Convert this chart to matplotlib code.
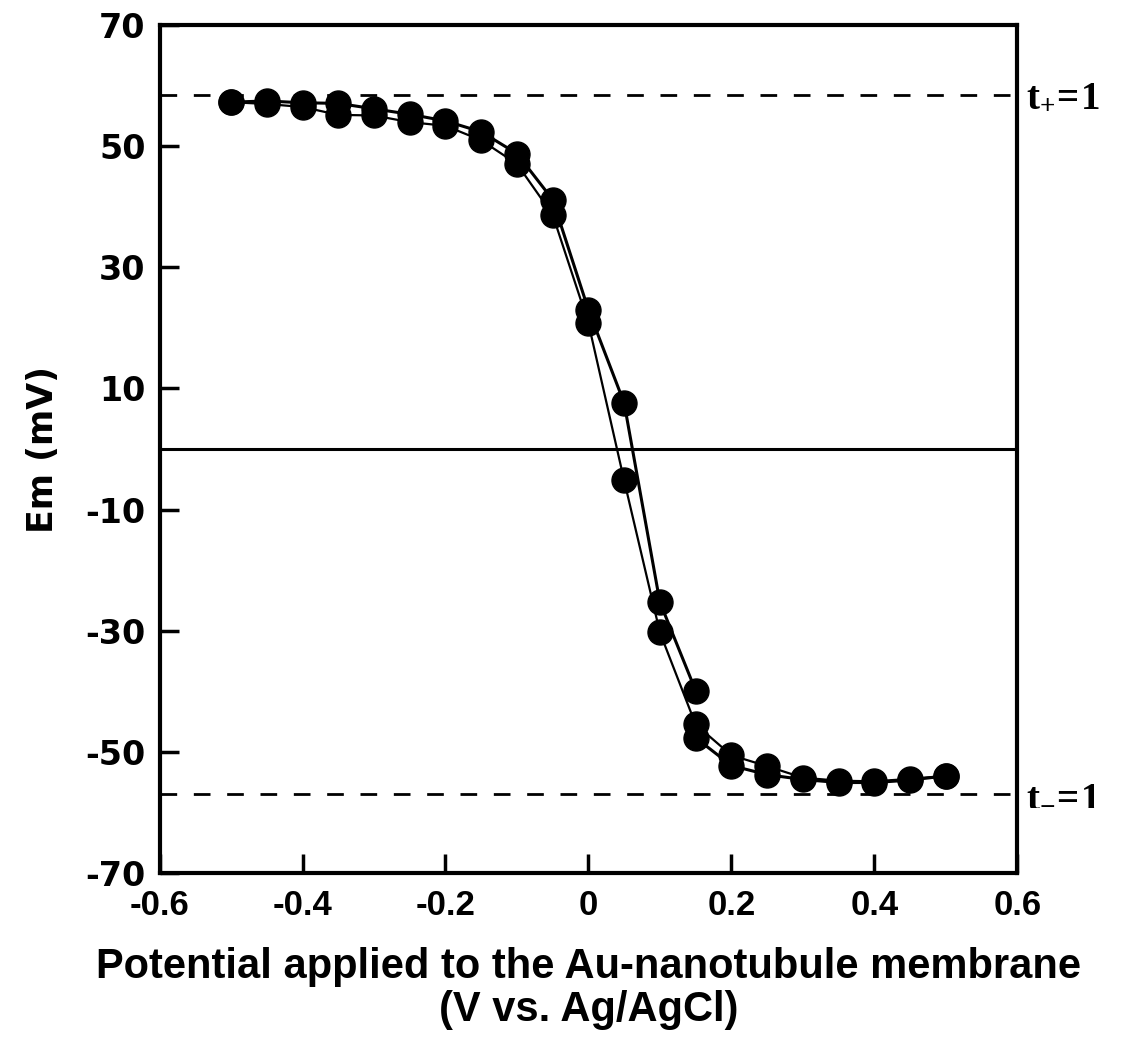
import numpy as np
import matplotlib
matplotlib.use('Agg')
import matplotlib.pyplot as plt

# applied potential (V vs Ag/AgCl)
potential = [-0.5, -0.45, -0.4, -0.35, -0.3, -0.25, -0.2, -0.15, -0.1, -0.05,
             0.0, 0.05, 0.1, 0.15, np.nan, 0.15, 0.2, 0.25, 0.3, 0.35, 0.4, 0.45, 0.5]
# membrane potential, first scan (mV)
em_scan1 = [57.3, 57.5, 57.2, 57.1, 56.2, 55.3, 54.2, 52.4, 48.8, 41.2,
            23.0, 7.6, -25.3, -39.9, np.nan, -47.7, -52.3, -53.8, -54.6, -55.1, -55.1, -54.7, -54.0]

potential2 = [-0.5, -0.45, -0.4, -0.35, -0.3, -0.25, -0.2, -0.15, -0.1, -0.05,
              0.0, 0.05, 0.1, 0.15, 0.2, 0.25, 0.3, 0.35, 0.4, 0.45, 0.5]
# membrane potential, second scan (mV)
em_scan2 = [57.3, 57.0, 56.5, 55.2, 55.1, 54.0, 53.4, 51.0, 47.1, 38.7,
            20.8, -5.2, -30.3, -45.5, -50.6, -52.4, -54.3, -54.8, -54.9, -54.5, -54.0]

# ideal transference limits (mV)
t_plus_limit = 58.5
t_minus_limit = -57.0

x_ticks = [-0.6, -0.4, -0.2, 0, 0.2, 0.4, 0.6]
x_ticklabels = ['-0.6', '-0.4', '-0.2', '0', '0.2', '0.4', '0.6']
y_ticks = [-70, -50, -30, -10, 10, 30, 50, 70]

plt.rcParams['mathtext.fontset'] = 'custom'
plt.rcParams['mathtext.bf'] = 'Liberation Serif:bold'
plt.rcParams['mathtext.rm'] = 'Liberation Serif:bold'

sans = ['Liberation Sans', 'DejaVu Sans']

fig = plt.figure(figsize=(11.24, 10.54), dpi=100)
ax = fig.add_axes([0.142, 0.172, 0.763, 0.804])

ax.plot(potential, em_scan1, '-o', color='black', lw=2.2, markersize=18, zorder=3)
ax.plot(potential2, em_scan2, '-o', color='black', lw=1.6, markersize=18, zorder=3)

ax.axhline(0, color='black', lw=2.2)
ax.axhline(t_plus_limit, color='black', lw=2, linestyle=(0, (6, 6)))
ax.axhline(t_minus_limit, color='black', lw=2, linestyle=(0, (6, 6)))

ax.set_xlim(-0.6, 0.6)
ax.set_ylim(-70, 70)
ax.set_xticks(x_ticks)
ax.set_xticklabels(x_ticklabels, family=sans, fontweight='bold', fontsize=25)
ax.set_yticks(y_ticks)
ax.set_yticklabels([str(v) for v in y_ticks], fontweight='bold', fontsize=24)
ax.tick_params(axis='both', direction='in', length=14, width=2.5, colors='black')
ax.tick_params(axis='x', pad=12)
ax.tick_params(axis='y', pad=10)
for s in ax.spines.values():
    s.set_linewidth(3)

ax.set_ylabel('Em (mV)', fontweight='bold', fontsize=25, labelpad=18)
ax.set_xlabel('Potential applied to the Au-nanotubule membrane\n(V vs. Ag/AgCl)',
              family=sans, fontweight='bold', fontsize=30, labelpad=18, linespacing=1.1)

ax.text(1.01, (t_plus_limit + 70) / 140, r'$\mathbf{t_{+}\!=\!1}$', transform=ax.transAxes,
        fontsize=28, va='center', ha='left')
ax.text(1.01, (t_minus_limit + 70) / 140, r'$\mathbf{t_{-}\!=\!1}$', transform=ax.transAxes,
        fontsize=28, va='center', ha='left')

plt.savefig('out.png', dpi=100)
